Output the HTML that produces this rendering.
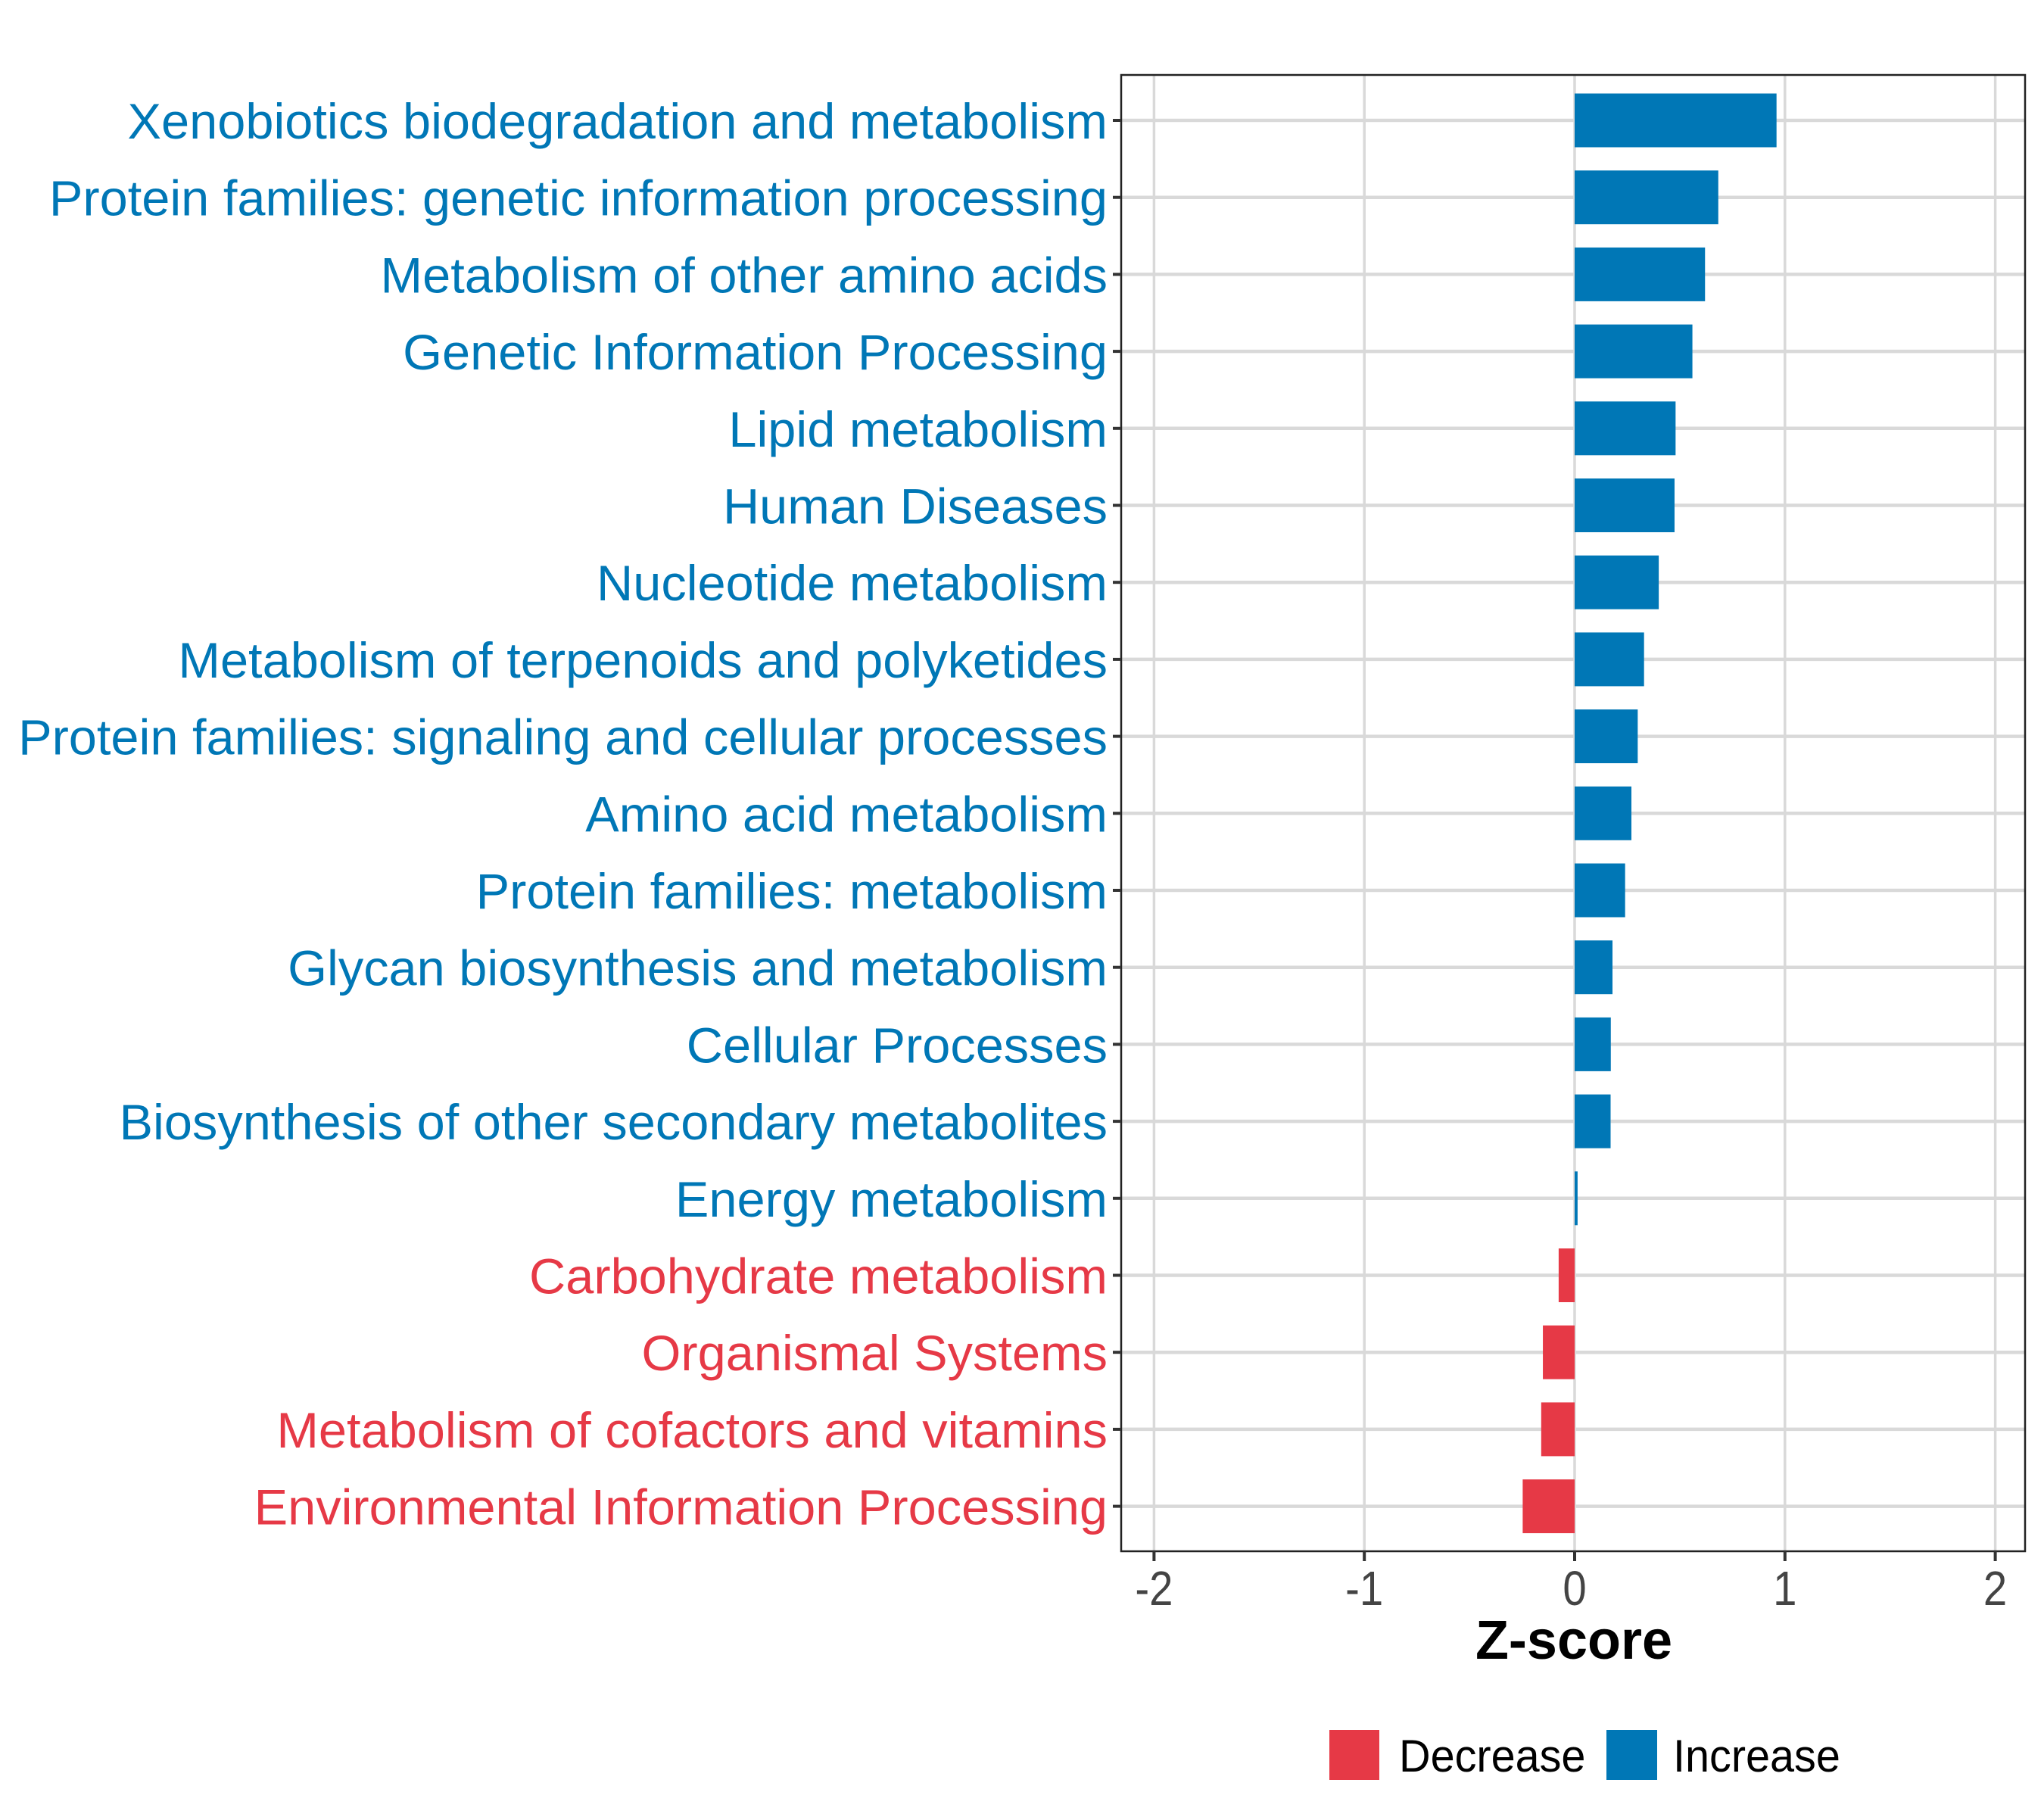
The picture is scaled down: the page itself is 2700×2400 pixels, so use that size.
<!DOCTYPE html>
<html><head><meta charset="utf-8"><style>
html,body{margin:0;padding:0;background:#fff;}
svg{display:block;font-family:"Liberation Sans",Arial,sans-serif;}
</style></head><body>
<svg id="chart" width="2700" height="2400" viewBox="0 0 2700 2400">
<rect x="0" y="0" width="2700" height="2400" fill="#fff"/>
<g id="grid"></g>
<g id="bars"></g>
<rect x="1481" y="99" width="1194" height="1950" fill="none" stroke="#222" stroke-width="2.5"/>
<g id="ylabels"></g>
<g id="xaxis"></g>
<text x="2079" y="2191" font-size="72" font-weight="bold" text-anchor="middle" fill="#000">Z-score</text>
<g>
<rect x="1756" y="2285" width="66" height="66" fill="#E63946"/>
<text x="1848" y="2340" font-size="60" fill="#000" transform="translate(1848 0) scale(0.96 1) translate(-1848 0)">Decrease</text>
<rect x="2122" y="2285" width="67" height="66" fill="#0077B6"/>
<text x="2210" y="2340" font-size="60" fill="#000" transform="translate(2210 0) scale(0.96 1) translate(-2210 0)">Increase</text>
</g>
</svg>
<script>
const categories = [
"Xenobiotics biodegradation and metabolism",
"Protein families: genetic information processing",
"Metabolism of other amino acids",
"Genetic Information Processing",
"Lipid metabolism",
"Human Diseases",
"Nucleotide metabolism",
"Metabolism of terpenoids and polyketides",
"Protein families: signaling and cellular processes",
"Amino acid metabolism",
"Protein families: metabolism",
"Glycan biosynthesis and metabolism",
"Cellular Processes",
"Biosynthesis of other secondary metabolites",
"Energy metabolism",
"Carbohydrate metabolism",
"Organismal Systems",
"Metabolism of cofactors and vitamins",
"Environmental Information Processing"
];
const zscores = [0.96,0.683,0.62,0.56,0.48,0.475,0.40,0.33,0.30,0.27,0.24,0.18,0.172,0.171,0.014,-0.076,-0.151,-0.159,-0.247];
const xTicks = [-2,-1,0,1,2];
const xTickLabels = ["-2","-1","0","1","2"];

const NS="http://www.w3.org/2000/svg";
const BLUE="#0077B6", RED="#E63946";
const x0=2080, unit=277.8;
function xs(v){return x0+v*unit;}
const y0=159, step=101.7;
function ys(i){return y0+i*step;}
function mk(tag,attrs,parent){const e=document.createElementNS(NS,tag);for(const k in attrs)e.setAttribute(k,attrs[k]);parent.appendChild(e);return e;}

const grid=document.getElementById('grid');
xTicks.forEach((t,i)=>{
  const l=mk('line',{x1:xs(t),x2:xs(t),y1:99,y2:2049,stroke:'#d9d9d9','stroke-width':3.5},grid);
  
  
});
categories.forEach((c,i)=>{
  const l=mk('line',{x1:1481,x2:2675,y1:ys(i),y2:ys(i),stroke:'#d9d9d9','stroke-width':4.5},grid);
  
  
});

const bars=document.getElementById('bars');
const bh=71;
zscores.forEach((v,i)=>{
  const a=xs(0), b=xs(v);
  const r=mk('rect',{x:Math.min(a,b),y:ys(i)-bh/2,width:Math.max(Math.abs(b-a),2),height:bh,fill:v>=0?BLUE:RED},bars);
  
  
});

const LX=1463;
const yl=document.getElementById('ylabels');
categories.forEach((c,i)=>{
  const tk=mk('line',{x1:1470,x2:1481,y1:ys(i),y2:ys(i),stroke:'#333','stroke-width':4},yl);
  
  
  const t=mk('text',{x:LX,y:ys(i)+24,'font-size':66,'text-anchor':'end',fill:zscores[i]>=0?BLUE:RED},yl);
  t.textContent=c;
  
  
});

const xa=document.getElementById('xaxis');
xTicks.forEach((t,i)=>{
  const tk=mk('line',{x1:xs(t),x2:xs(t),y1:2049,y2:2062,stroke:'#333','stroke-width':4},xa);
  
  
  const tx=mk('text',{x:xs(t),y:2120,'font-size':64,'text-anchor':'middle',fill:'#444',transform:`translate(${xs(t)} 0) scale(0.88 1) translate(${-xs(t)} 0)`},xa);
  tx.textContent=xTickLabels[i];
  
  
});

(function(){
  const labels=yl.querySelectorAll('text');
  let maxW=0; labels.forEach(t=>{const w=t.getComputedTextLength();if(w>maxW)maxW=w;});
  if(maxW>0){const s=1439/maxW;labels.forEach(t=>t.setAttribute('transform',`translate(${LX} 0) scale(${s} 1) translate(${-LX} 0)`));}
})();
</script>
</body></html>
